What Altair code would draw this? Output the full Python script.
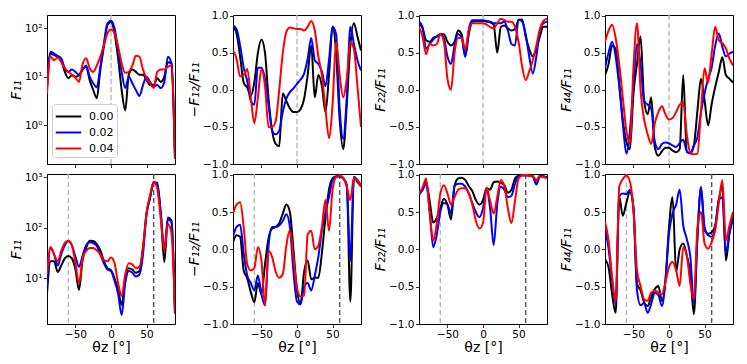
import altair as alt
import pandas as pd

# ---------------- data ----------------
theta = list(range(-90, 91, 5))
series_labels = ["0.00", "0.02", "0.04"]
line_colors = ["#000000", "#0000ff", "#ff0000"]

x_ticks = [-50, 0, 50]
vline_top = [0]
vline_bottom_light = [-60]
vline_bottom_dark = [60]

# top row
f11_top_000 = [6, 30, 28, 26, 22, 12.6, 9.3, 10.7, 10, 10.7, 14, 16, 8.5, 5.3, 3.6, 14, 42, 117, 137, 79, 24, 5.3, 2.0, 11, 14, 12.6, 11, 11, 8.5, 6.7, 6.7, 9.3, 7.8, 10, 20, 19, 0.2]
f11_top_002 = [6, 33, 30, 27, 24, 15, 12.6, 14, 12.6, 11, 14, 17, 10, 7.3, 6.0, 16, 49, 127, 143, 100, 36, 12.6, 5.8, 10, 7.3, 5.3, 4.0, 6.7, 10, 7.8, 6.2, 6.7, 5.8, 7.8, 26, 19, 0.2]
f11_top_004 = [4.5, 26, 22, 25, 20, 15, 12.6, 11, 9.5, 7.8, 18, 24, 15, 12.6, 17, 26, 45, 79, 95, 79, 42, 19, 12, 12.6, 17, 27, 26, 14, 9.3, 7.3, 5.8, 12.6, 14, 14, 16, 17, 0.2]

f12_top_000 = [0.85, 0.76, 0.45, 0.1, 0.03, -0.08, 0.1, 0.5, 0.68, 0.5, -0.12, -0.55, -0.73, -0.76, -0.05, -0.15, -0.25, -0.3, -0.3, -0.26, -0.12, 0.2, 0.6, -0.1, 0.2, 0.05, -0.3, 0.2, 0.85, 0.5, -0.4, -0.8, -0.2, 0.6, 0.9, 0.72, 0.53]
f12_top_002 = [0.87, 0.82, 0.6, 0.3, 0.12, -0.15, -0.2, 0.3, 0.3, 0.15, -0.2, -0.55, -0.6, -0.55, -0.3, -0.12, -0.03, 0.02, 0.08, 0.14, 0.22, 0.42, 0.7, 0.4, 0.35, 0.25, 0.05, 0.4, 0.85, 0.75, -0.25, -0.66, -0.1, 0.85, 0.62, 0.4, 0.26]
f12_top_004 = [0.53, 0.42, 0.18, 0.2, 0.28, -0.1, -0.45, -0.1, 0.28, 0.05, -0.5, -0.5, -0.42, 0.0, 0.5, 0.78, 0.84, 0.83, 0.82, 0.82, 0.8, 0.85, 0.93, 0.8, 0.45, 0.2, -0.25, -0.65, -0.2, 0.65, 0.2, -0.1, 0.15, 0.65, 0.55, 0.05, -0.5]

f22_top_000 = [0.9, 0.83, 0.67, 0.65, 0.7, 0.72, 0.75, 0.75, 0.65, 0.6, 0.65, 0.8, 0.75, 0.45, 0.75, 0.92, 0.93, 0.93, 0.93, 0.92, 0.91, 0.88, 0.5, 0.85, 0.87, 0.83, 0.8, 0.82, 0.94, 0.95, 0.72, 0.55, 0.45, 0.55, 0.72, 0.85, 0.85]
f22_top_002 = [0.92, 0.85, 0.55, 0.62, 0.68, 0.72, 0.75, 0.7, 0.45, 0.35, 0.6, 0.75, 0.7, 0.45, 0.82, 0.94, 0.94, 0.94, 0.94, 0.93, 0.92, 0.9, 0.9, 0.9, 0.92, 0.8, 0.62, 0.6, 0.95, 0.92, 0.75, 0.45, 0.22, 0.45, 0.8, 0.9, 0.92]
f22_top_004 = [0.85, 0.72, 0.48, 0.62, 0.6, 0.62, 0.75, 0.65, 0.15, 0.0, 0.5, 0.7, 0.7, 0.55, 0.8, 0.9, 0.9, 0.9, 0.9, 0.88, 0.85, 0.83, 0.9, 0.96, 0.94, 0.92, 0.92, 0.85, 0.65, 0.32, 0.13, 0.25, 0.4, 0.6, 0.82, 0.93, 0.96]

f44_top_000 = [0.2, 0.35, 0.6, 0.55, 0.1, -0.4, -0.7, -0.8, -0.05, 0.35, 0.72, -0.15, -0.33, -0.1, -0.77, -0.89, -0.83, -0.78, -0.78, -0.82, -0.84, -0.8, 0.2, -0.84, -0.85, -0.75, -0.28, 0.15, -0.14, -0.48, -0.19, 0.04, 0.24, 0.44, 0.2, 0.15, 0.1]
f44_top_002 = [0.3, 0.5, 0.65, 0.45, 0.05, -0.45, -0.86, -0.55, 0.05, 0.62, 0.35, -0.15, -0.2, -0.25, -0.7, -0.8, -0.73, -0.71, -0.72, -0.75, -0.77, -0.72, -0.67, -0.83, -0.86, -0.75, -0.64, -0.3, -0.05, 0.15, 0.3, 0.6, 0.76, 0.58, 0.45, 0.49, 0.51]
f44_top_004 = [0.65, 0.8, 0.88, 0.7, 0.35, -0.1, -0.55, -0.72, 0.3, 0.9, 0.0, -0.4, -0.6, -0.73, -0.45, -0.3, -0.22, -0.33, -0.4, -0.38, -0.3, -0.2, -0.17, -0.6, -0.85, -0.87, -0.86, -0.28, 0.29, 0.1, 0.49, 0.85, 0.67, 0.63, 0.56, 0.42, 0.33]

# bottom row
f11_bot_000 = [5, 22, 22, 13.5, 18, 25, 28, 25, 15, 6, 23, 40, 56, 55, 48, 36, 22, 16, 14.5, 10, 6, 3.0, 10, 16, 15, 13, 14, 42, 190, 400, 800, 690, 190, 21, 160, 140, 2]
f11_bot_002 = [7, 40, 30, 18, 30, 45, 55, 45, 27, 17, 28, 45, 52, 50, 44, 30, 20, 15, 14, 9, 5, 1.9, 8, 14, 13, 11, 12, 30, 190, 400, 800, 780, 200, 39, 150, 130, 2]
f11_bot_004 = [12, 42, 30, 22, 35, 50, 56, 45, 20, 8, 25, 35, 40, 40, 36, 30, 23, 22, 26, 20, 8, 4.5, 12, 20, 19, 16, 17, 40, 200, 450, 820, 600, 150, 36, 120, 80, 2]

f12_bot_000 = [0.1, 0.19, 0.17, -0.28, -0.39, -0.57, -0.71, -0.45, -0.6, -0.2, 0.15, 0.28, 0.3, 0.35, 0.48, 0.6, 0.5, 0.0, -0.55, -0.72, -0.3, -0.15, -0.4, -0.38, -0.38, -0.05, 0.42, 0.8, 0.95, 0.98, 0.98, 0.95, 0.87, -0.7, 0.97, 0.93, 0.85]
f12_bot_002 = [0.17, 0.3, 0.33, -0.05, -0.35, -0.45, -0.55, -0.35, -0.6, -0.75, 0.05, 0.3, 0.3, 0.32, 0.38, 0.47, 0.3, -0.3, -0.7, -0.74, -0.5, -0.45, -0.55, -0.35, -0.1, 0.25, 0.5, 0.7, 0.93, 0.97, 0.98, 0.95, 0.85, -0.15, 0.97, 0.9, 0.85]
f12_bot_004 = [0.48, 0.6, 0.63, 0.3, -0.2, -0.28, -0.25, 0.03, -0.15, -0.75, -0.02, -0.1, -0.3, -0.38, -0.33, 0.05, 0.26, -0.1, -0.52, -0.63, -0.62, 0.2, 0.25, 0.0, 0.05, 0.3, 0.66, 0.25, 0.8, 0.97, 0.99, 0.96, 0.84, 0.66, 0.96, 0.92, 0.84]

f22_bot_000 = [0.75, 0.8, 0.9, 0.65, 0.36, 0.42, 0.55, 0.68, 0.6, 0.4, 0.85, 0.95, 0.96, 0.93, 0.85, 0.78, 0.66, 0.6, 0.66, 0.82, 0.8, 0.9, 0.91, 0.89, 0.86, 0.76, 0.8, 0.95, 0.99, 1.0, 1.0, 0.99, 0.98, 0.87, 0.99, 0.98, 0.97]
f22_bot_002 = [0.73, 0.8, 0.88, 0.5, 0.03, 0.2, 0.5, 0.62, 0.6, 0.48, 0.85, 0.88, 0.88, 0.84, 0.75, 0.62, 0.5, 0.43, 0.55, 0.8, 0.55, 0.06, 0.6, 0.84, 0.8, 0.7, 0.72, 0.88, 0.98, 0.99, 0.99, 0.99, 0.98, 0.88, 0.98, 0.97, 0.96]
f22_bot_004 = [0.75, 0.83, 0.95, 0.5, 0.12, 0.35, 0.75, 0.86, 0.75, 0.6, 0.7, 0.8, 0.82, 0.82, 0.75, 0.6, 0.38, 0.28, 0.35, 0.83, 0.65, 0.48, 0.7, 0.93, 0.85, 0.55, 0.35, 0.65, 0.95, 0.99, 1.0, 0.99, 0.98, 0.93, 0.98, 0.97, 0.96]

f44_bot_000 = [-0.13, -0.24, -0.6, -0.85, 0.71, 0.45, 0.62, 0.77, 0.55, -0.46, -0.55, -0.71, -0.76, -0.64, -0.53, -0.49, -0.69, -0.42, 0.3, 0.7, -0.3, 0.0, 0.08, -0.08, -0.33, -0.87, 0.17, 0.82, 0.26, 0.21, 0.23, 0.32, 0.66, 0.85, -0.15, 0.22, 0.44]
f44_bot_002 = [0.3, 0.01, -0.42, -0.73, 0.71, 0.75, 0.74, 0.8, 0.57, -0.55, -0.75, -0.72, -0.85, -0.73, -0.58, -0.61, -0.76, -0.42, 0.21, 0.48, 0.6, 0.8, 0.32, 0.14, -0.1, -0.73, 0.17, 0.84, 0.3, 0.19, 0.17, 0.3, 0.66, 0.7, -0.05, 0.21, 0.41]
f44_bot_004 = [0.37, 0.12, -0.37, -0.7, 0.84, 0.94, 0.99, 0.91, 0.53, -0.28, -0.49, -0.67, -0.69, -0.58, -0.55, -0.58, -0.6, -0.44, -0.24, -0.17, -0.28, -0.49, 0.03, -0.08, -0.46, -0.67, 0.3, 0.5, 0.08, 0.01, 0.1, 0.26, 0.62, 0.93, 0.12, 0.32, 0.5]

FONT = "DejaVu Sans"


def long_df(series):
    rows = []
    for lab, vals in zip(series_labels, series):
        for t, v in zip(theta, vals):
            rows.append({"theta": t, "value": v, "series": lab})
    return pd.DataFrame(rows)


def make_panel(series, ytitle, kind, bottom, legend_on):
    h = 150 if bottom else 149
    xscale = alt.Scale(domain=[-90, 90], nice=False, zero=False)
    if bottom:
        xaxis = alt.Axis(values=x_ticks, labels=True, title="θz [°]", labelFlush=False)
    else:
        xaxis = alt.Axis(values=x_ticks, labels=False, title=None)

    if kind == "log_top":
        yscale = alt.Scale(type="log", domain=[0.156, 189], nice=False)
        yaxis = alt.Axis(values=[1, 10, 100], title=ytitle, titleFontStyle="italic",
                         labelExpr="datum.value >= 99 ? '10²' : datum.value >= 9 ? '10¹' : '10⁰'")
    elif kind == "log_bot":
        yscale = alt.Scale(type="log", domain=[1.26, 1164], nice=False)
        yaxis = alt.Axis(values=[10, 100, 1000], title=ytitle, titleFontStyle="italic",
                         labelExpr="datum.value >= 999 ? '10³' : datum.value >= 99 ? '10²' : '10¹'")
    else:
        yscale = alt.Scale(domain=[-1.0, 1.01], nice=False, zero=False)
        yaxis = alt.Axis(values=[-1, -0.5, 0, 0.5, 1], format=".1f", title=ytitle,
                         titleFontStyle="italic", labelFlush=False)

    layers = []
    if bottom:
        rule_sets = [(vline_bottom_light, "#b4b4b4"), (vline_bottom_dark, "#555555")]
    else:
        rule_sets = [(vline_top, "#b4b4b4")]
    for pos, col in rule_sets:
        layers.append(
            alt.Chart(pd.DataFrame({"theta": pos}))
            .mark_rule(color=col, strokeDash=[5, 3], strokeWidth=1.4)
            .encode(x=alt.X("theta:Q", scale=xscale, axis=xaxis))
        )

    cscale = alt.Scale(domain=series_labels, range=line_colors)
    if legend_on:
        color = alt.Color("series:N", scale=cscale, legend=alt.Legend(
            orient="none", legendX=5, legendY=89, title=None,
            symbolType="M-1.5,0L1.5,0", symbolStrokeWidth=2, symbolSize=289,
            symbolOffset=4, labelOffset=11,
            labelFont=FONT, labelFontSize=11, labelColor="black",
            strokeColor="#cccccc", fillColor="white", padding=3,
            cornerRadius=3, rowPadding=1))
    else:
        color = alt.Color("series:N", scale=cscale, legend=None)

    lines = (
        alt.Chart(long_df(series))
        .mark_line(strokeWidth=2, clip=True, interpolate="monotone")
        .encode(
            x=alt.X("theta:Q", scale=xscale, axis=xaxis),
            y=alt.Y("value:Q", scale=yscale, axis=yaxis),
            color=color,
            detail="series:N",
        )
    )
    layers.append(lines)
    return alt.layer(*layers).properties(width=128, height=h)


panels = [
    make_panel([f11_top_000, f11_top_002, f11_top_004], "F₁₁", "log_top", False, True),
    make_panel([f12_top_000, f12_top_002, f12_top_004], "−F₁₂/F₁₁", "lin", False, False),
    make_panel([f22_top_000, f22_top_002, f22_top_004], "F₂₂/F₁₁", "lin", False, False),
    make_panel([f44_top_000, f44_top_002, f44_top_004], "F₄₄/F₁₁", "lin", False, False),
    make_panel([f11_bot_000, f11_bot_002, f11_bot_004], "F₁₁", "log_bot", True, False),
    make_panel([f12_bot_000, f12_bot_002, f12_bot_004], "−F₁₂/F₁₁", "lin", True, False),
    make_panel([f22_bot_000, f22_bot_002, f22_bot_004], "F₂₂/F₁₁", "lin", True, False),
    make_panel([f44_bot_000, f44_bot_002, f44_bot_004], "F₄₄/F₁₁", "lin", True, False),
]

chart = (
    alt.concat(*panels, columns=4, spacing={"row": 10, "column": 58}, bounds="flush")
    .resolve_scale(color="independent")
    .properties(padding={"left": 0, "top": 2, "right": 5, "bottom": 0}, background="white")
    .configure_view(stroke="black", strokeWidth=1)
    .configure_axis(
        labelFont=FONT, labelFontSize=10.5, labelColor="black",
        titleFont=FONT, titleFontSize=14, titleFontWeight="normal", titleColor="black",
        tickColor="black", tickSize=3.5, tickWidth=0.8,
        domainColor="black", domainWidth=0.8, grid=False,
        labelPadding=1.5, titlePadding=1,
    )
)

chart.save("out.html", embed_options={"renderer": "svg", "actions": False})
